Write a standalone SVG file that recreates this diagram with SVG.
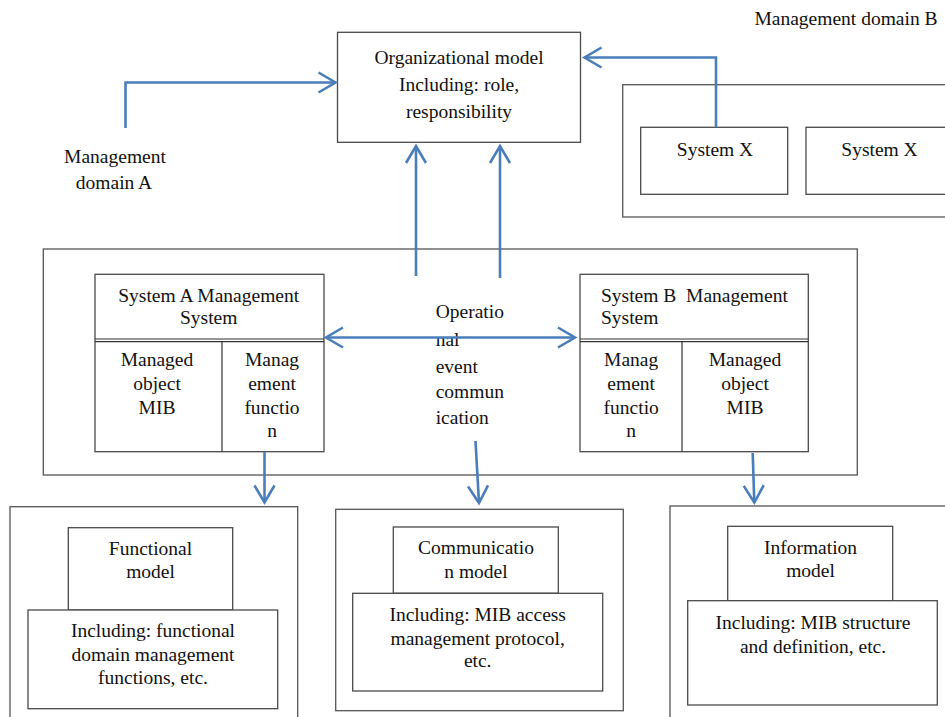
<svg xmlns="http://www.w3.org/2000/svg" width="945" height="717" viewBox="0 0 945 717">
  <style>
    .box { fill: #ffffff; stroke: #4a4a4a; stroke-width: 1.3; }
    .frame { fill: none; stroke: #555555; stroke-width: 1.3; }
    .rule { stroke: #333333; stroke-width: 1.2; fill: none; }
    .t { font-family: "Liberation Serif", "Times New Roman", serif; font-size: 19.5px; fill: #111111; }
    .c { text-anchor: middle; }
    .link { fill: none; stroke: #4a7ebb; stroke-width: 2.6; }
  </style>
  <defs>
    <marker id="arrowhead" markerUnits="userSpaceOnUse" markerWidth="30" markerHeight="30" refX="0" refY="0" orient="auto-start-reverse" overflow="visible">
      <path d="M-17,-10 L0,0 L-17,10" fill="none" stroke="#4a7ebb" stroke-width="2.6" stroke-linejoin="miter"/>
    </marker>
  </defs>

  <rect width="945" height="717" fill="#ffffff"/>

  <!-- Management domain A label -->
  <g id="domain-a">
    <text class="t c" x="115" y="163">Management</text>
    <text class="t c" x="114" y="189">domain A</text>
  </g>

  <!-- Management domain B with its systems -->
  <g id="domain-b">
    <text class="t c" x="846" y="25">Management domain B</text>
    <rect class="frame" x="622.7" y="84.7" width="330" height="132.3"/>
  </g>
  <g id="system-x-1">
    <rect class="box" x="640.7" y="127.3" width="147" height="67"/>
    <text class="t c" x="715" y="156">System X</text>
  </g>
  <g id="system-x-2">
    <rect class="box" x="806" y="127.3" width="147" height="67"/>
    <text class="t c" x="879.5" y="156">System X</text>
  </g>

  <!-- Organizational model -->
  <g id="organizational-model">
    <rect class="box" x="337.5" y="32.3" width="243" height="110"/>
    <text class="t c" x="459" y="64">Organizational model</text>
    <text class="t c" x="459" y="91">Including: role,</text>
    <text class="t c" x="459" y="118">responsibility</text>
  </g>

  <!-- Management systems container -->
  <g id="management-area">
    <rect class="frame" x="43.3" y="249" width="814" height="226"/>
    <text class="t" x="435.7" y="317.7">Operatio</text>
    <text class="t" x="435.7" y="346">nal</text>
    <text class="t" x="435.7" y="372.7">event</text>
    <text class="t" x="435.7" y="397.7">commun</text>
    <text class="t" x="435.7" y="424.3">ication</text>
  </g>

  <g id="system-a">
    <rect class="box" x="95" y="274.3" width="229" height="177.4"/>
    <line class="rule" x1="95" y1="339" x2="324" y2="339"/>
    <line class="rule" x1="95" y1="341.6" x2="324" y2="341.6"/>
    <line class="rule" x1="222" y1="341.6" x2="222" y2="451.7"/>
    <text class="t c" x="208.7" y="302">System A Management</text>
    <text class="t c" x="208.7" y="324">System</text>
    <text class="t c" x="157" y="366">Managed</text>
    <text class="t c" x="157" y="390">object</text>
    <text class="t c" x="157" y="413.7">MIB</text>
    <text class="t c" x="272" y="366">Manag</text>
    <text class="t c" x="272" y="390">ement</text>
    <text class="t c" x="272" y="413.7">functio</text>
    <text class="t c" x="272" y="436.7">n</text>
  </g>

  <g id="system-b">
    <rect class="box" x="580" y="274.3" width="228.3" height="177.4"/>
    <line class="rule" x1="580" y1="339" x2="808.3" y2="339"/>
    <line class="rule" x1="580" y1="341.6" x2="808.3" y2="341.6"/>
    <line class="rule" x1="682" y1="341.6" x2="682" y2="451.7"/>
    <text class="t" x="601" y="302" xml:space="preserve">System B  Management</text>
    <text class="t" x="601" y="324">System</text>
    <text class="t c" x="631.2" y="366">Manag</text>
    <text class="t c" x="631.2" y="390">ement</text>
    <text class="t c" x="631.2" y="413.7">functio</text>
    <text class="t c" x="631.2" y="436.7">n</text>
    <text class="t c" x="745" y="366">Managed</text>
    <text class="t c" x="745" y="390">object</text>
    <text class="t c" x="745" y="413.7">MIB</text>
  </g>

  <!-- Functional model -->
  <g id="functional-model">
    <rect class="frame" x="10" y="506.7" width="287.7" height="215"/>
    <rect class="box" x="68.3" y="527.7" width="164.4" height="82.3"/>
    <rect class="box" x="28" y="610" width="249.7" height="98.7"/>
    <text class="t c" x="150.5" y="555">Functional</text>
    <text class="t c" x="150.5" y="578">model</text>
    <text class="t c" x="153" y="637">Including: functional</text>
    <text class="t c" x="153" y="660.5">domain management</text>
    <text class="t c" x="153" y="684">functions, etc.</text>
  </g>

  <!-- Communication model -->
  <g id="communication-model">
    <rect class="frame" x="335.7" y="509.3" width="287.6" height="201.4"/>
    <rect class="box" x="393.3" y="527" width="165" height="66.3"/>
    <rect class="box" x="352.7" y="593.3" width="250" height="97.7"/>
    <text class="t c" x="476" y="554">Communicatio</text>
    <text class="t c" x="476" y="577.5">n model</text>
    <text class="t c" x="477.7" y="621">Including: MIB access</text>
    <text class="t c" x="477.7" y="644.5">management protocol,</text>
    <text class="t c" x="477.7" y="667">etc.</text>
  </g>

  <!-- Information model -->
  <g id="information-model">
    <rect class="frame" x="670" y="506" width="290" height="215"/>
    <rect class="box" x="727.7" y="526.3" width="165" height="74.4"/>
    <rect class="box" x="687.7" y="600.7" width="249.6" height="104.3"/>
    <text class="t c" x="810.5" y="554">Information</text>
    <text class="t c" x="810.5" y="576.5">model</text>
    <text class="t c" x="813" y="629">Including: MIB structure</text>
    <text class="t c" x="813" y="652.5">and definition, etc.</text>
  </g>

  <!-- Connectors -->
  <g id="connectors">
    <path class="link" d="M125.5,128 V82.5 H335.5" marker-end="url(#arrowhead)"/>
    <path class="link" d="M716,127.3 V57.5 H584.5" marker-end="url(#arrowhead)"/>
    <path class="link" d="M416,276 V146" marker-end="url(#arrowhead)"/>
    <path class="link" d="M500,278 V146" marker-end="url(#arrowhead)"/>
    <path class="link" d="M326,337.5 H575" marker-start="url(#arrowhead)" marker-end="url(#arrowhead)"/>
    <path class="link" d="M264.5,451.7 V502.5" marker-end="url(#arrowhead)"/>
    <path class="link" d="M475.5,441 L479,503" marker-end="url(#arrowhead)"/>
    <path class="link" d="M752.7,453 L754.3,502.5" marker-end="url(#arrowhead)"/>
  </g>
</svg>
